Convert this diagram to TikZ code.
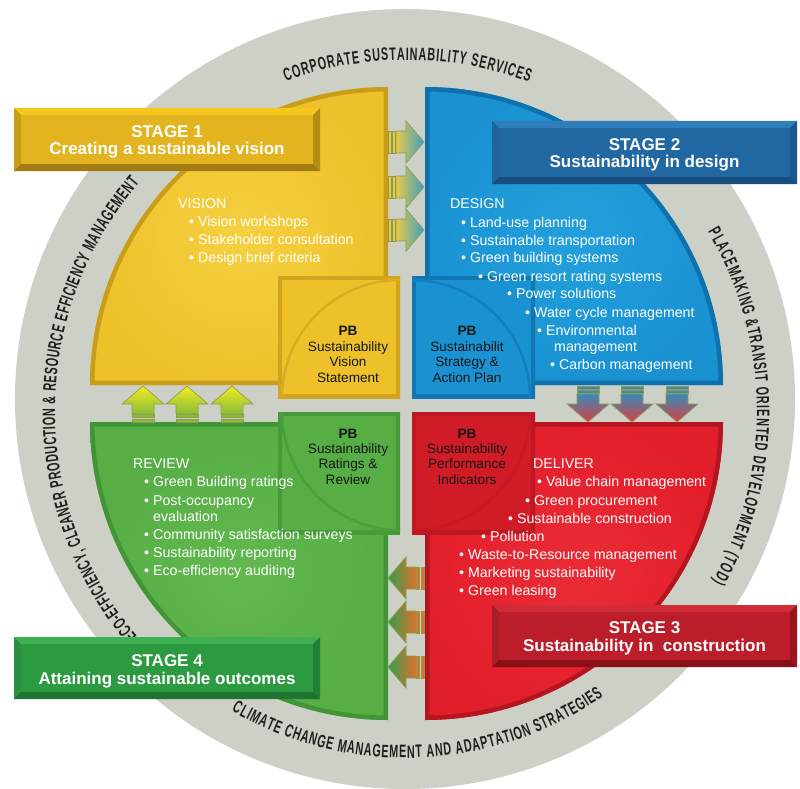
\documentclass[tikz,border=0pt]{standalone}
\usepackage{fontspec}
\setmainfont{Liberation Sans}
\newfontfamily\ringfont[FakeStretch=0.6]{Liberation Sans}
\usetikzlibrary{decorations.text}

\definecolor{ringlight}{HTML}{D6D9D0}
\definecolor{ringmid}{HTML}{CDD0C7}
\definecolor{ringdark}{HTML}{A7ABA2}
\definecolor{ymain}{HTML}{EEC12B}
\definecolor{ylight}{HTML}{F6D040}
\definecolor{ydark}{HTML}{B88E12}
\definecolor{bmain}{HTML}{1A92D2}
\definecolor{blight}{HTML}{22A0DC}
\definecolor{bdark}{HTML}{0B68A2}
\definecolor{gmain}{HTML}{56AE45}
\definecolor{glight}{HTML}{62B84F}
\definecolor{gdark}{HTML}{3A8A30}
\definecolor{rmain}{HTML}{E31E2B}
\definecolor{rlight}{HTML}{EA2C36}
\definecolor{rdark}{HTML}{A8141C}
\definecolor{sAm}{HTML}{E3B41F}\definecolor{sAl}{HTML}{F6C81E}\definecolor{sAd}{HTML}{A27C10}
\definecolor{sBm}{HTML}{2167A2}\definecolor{sBl}{HTML}{2F7DBA}\definecolor{sBd}{HTML}{174E7E}
\definecolor{sCm}{HTML}{BB1E2A}\definecolor{sCl}{HTML}{CF2C36}\definecolor{sCd}{HTML}{8A1018}
\definecolor{sDm}{HTML}{2C9A41}\definecolor{sDl}{HTML}{3DB052}\definecolor{sDd}{HTML}{1E7431}
\definecolor{arline}{HTML}{8E9C4C}
\definecolor{pbtext}{HTML}{161616}
\definecolor{aYt}{HTML}{E8C84A}\definecolor{aYh}{HTML}{3AA0C4}
\definecolor{aBt}{HTML}{3A8ABA}\definecolor{aBh}{HTML}{D84040}
\definecolor{aRt}{HTML}{E07030}\definecolor{aRh}{HTML}{2FA04C}
\definecolor{aGt}{HTML}{88BC3A}\definecolor{aGh}{HTML}{F4EC20}

\pgfdeclareradialshading{ringshade}{\pgfpoint{0bp}{0bp}}{color(0bp)=(ringmid); color(40bp)=(ringmid); color(42.5bp)=(ringlight); color(47bp)=(ringlight); color(50bp)=(ringdark)}

\newcommand\ringfmt{\ringfont\bfseries\fontsize{18}{18}\selectfont\color{black!88}}

\newcommand\bevelbox[7]{%
  \fill[#5] (#1,-#2) rectangle (#3,-#4);
  \fill[#6] (#1,-#2) -- (#3,-#2) -- (#3-7,-#2-7) -- (#1+7,-#2-7) -- cycle;
  \fill[#6!45!#7] (#1,-#2) -- (#1+7,-#2-7) -- (#1+7,-#4+7) -- (#1,-#4) -- cycle;
  \fill[#7!70!#5] (#3,-#2) -- (#3-7,-#2-7) -- (#3-7,-#4+7) -- (#3,-#4) -- cycle;
  \fill[#7] (#1,-#4) -- (#1+7,-#4+7) -- (#3-7,-#4+7) -- (#3,-#4) -- cycle;
}

% arrows: tail position given in pixels (x, y from top)
\newcommand\arrR[2]{%
  \shadedraw[left color=aYt,right color=aYh,draw=arline,line width=0.7]
    (#1+8,-#2-11) -- (#1+18,-#2-11) -- (#1+18,-#2-21) -- (#1+36,-#2) -- (#1+18,-#2+21) -- (#1+18,-#2+11) -- (#1+8,-#2+11) -- cycle;
  \filldraw[fill=aYt,draw=arline,line width=0.5] (#1,-#2-11) rectangle (#1+3,-#2+11);
  \filldraw[fill=aYt,draw=arline,line width=0.5] (#1+4.5,-#2-11) rectangle (#1+7.5,-#2+11);}
\newcommand\arrL[2]{%
  \shadedraw[right color=aRt,left color=aRh,draw=arline,line width=0.7]
    (#1-8,-#2-11) -- (#1-18,-#2-11) -- (#1-18,-#2-21) -- (#1-36,-#2) -- (#1-18,-#2+21) -- (#1-18,-#2+11) -- (#1-8,-#2+11) -- cycle;
  \filldraw[fill=aRt,draw=arline,line width=0.5] (#1,-#2-11) rectangle (#1-3,-#2+11);
  \filldraw[fill=aRt,draw=arline,line width=0.5] (#1-4.5,-#2-11) rectangle (#1-7.5,-#2+11);}
\newcommand\arrD[2]{%
  \shadedraw[top color=aBt,bottom color=aBh,draw=arline,line width=0.7]
    (#1-11,-#2-8) -- (#1-11,-#2-18) -- (#1-21,-#2-18) -- (#1,-#2-36) -- (#1+21,-#2-18) -- (#1+11,-#2-18) -- (#1+11,-#2-8) -- cycle;
  \filldraw[fill=aBt,draw=arline,line width=0.5] (#1-11,-#2) rectangle (#1+11,-#2-3);
  \filldraw[fill=aBt,draw=arline,line width=0.5] (#1-11,-#2-4.5) rectangle (#1+11,-#2-7.5);}
\newcommand\arrU[2]{%
  \shadedraw[bottom color=aGt,top color=aGh,draw=arline,line width=0.7]
    (#1-11,-#2+8) -- (#1-11,-#2+18) -- (#1-21,-#2+18) -- (#1,-#2+36) -- (#1+21,-#2+18) -- (#1+11,-#2+18) -- (#1+11,-#2+8) -- cycle;
  \filldraw[fill=aGt,draw=arline,line width=0.5] (#1-11,-#2) rectangle (#1+11,-#2+3);
  \filldraw[fill=aGt,draw=arline,line width=0.5] (#1-11,-#2+4.5) rectangle (#1+11,-#2+7.5);}

\def\quadY{(388,-385) -- (90,-385) arc[start angle=180,end angle=90,radius=298] -- cycle}
\def\quadB{(425,-385) -- (425,-87) arc[start angle=90,end angle=0,radius=298] -- cycle}
\def\quadG{(388,-422) -- (90,-422) arc[start angle=180,end angle=270,radius=298] -- cycle}
\def\quadR{(425,-422) -- (723,-422) arc[start angle=0,end angle=-90,radius=298] -- cycle}
\def\tileY{(278,-276) rectangle (400,-398)}
\def\tileB{(412,-276) rectangle (535,-398)}
\def\tileG{(278,-412) rectangle (400,-534)}
\def\tileR{(412,-412) rectangle (535,-534)}

\begin{document}
\begin{tikzpicture}[x=1pt,y=1pt,
  qt/.style={anchor=base west,text=white,font=\fontsize{14.2}{16}\selectfont,inner sep=0pt},
  pbt/.style={anchor=base,text=pbtext,font=\fontsize{13.6}{16}\selectfont,inner sep=0pt},
  pbh/.style={pbt,font=\bfseries\fontsize{13.6}{16}\selectfont},
  st/.style={anchor=base,text=white,font=\bfseries\fontsize{17}{20}\selectfont,inner sep=0pt}]
\useasboundingbox (0,0) rectangle (800,-789);
\fill[white] (0,0) rectangle (800,-789);
\coordinate (O) at (405,-399);
\coordinate (T) at (406,-411);
\shade[shading=ringshade] (O) circle[radius=390];

% quadrants
\begin{scope}\clip \quadY; \shade[inner color=ylight,outer color=ymain] \quadY; \draw[ydark!70!ymain,line width=9] \quadY; \end{scope}
\begin{scope}\clip \quadB; \shade[inner color=blight,outer color=bmain] \quadB; \draw[bdark!80!bmain,line width=9] \quadB; \end{scope}
\begin{scope}\clip \quadG; \shade[inner color=glight,outer color=gmain] \quadG; \draw[gdark!70!gmain,line width=9] \quadG; \end{scope}
\begin{scope}\clip \quadR; \shade[inner color=rlight,outer color=rmain] \quadR; \draw[rdark!80!rmain,line width=9] \quadR; \end{scope}

% PB tiles
\begin{scope}\clip \tileY; \fill[ymain] \tileY; \draw[ydark!55!ymain,line width=8] \tileY;
  \draw[ydark!40!ymain,line width=2.5] (400,-280) arc[start angle=90,end angle=180,radius=118]; \end{scope}
\begin{scope}\clip \tileB; \fill[bmain] \tileB; \draw[bdark!65!bmain,line width=8] \tileB;
  \draw[bdark!45!bmain,line width=2.5] (530,-398) arc[start angle=0,end angle=90,radius=118]; \end{scope}
\begin{scope}\clip \tileG; \fill[gmain] \tileG; \draw[gdark!55!gmain,line width=8] \tileG;
  \draw[gdark!40!gmain,line width=2.5] (282,-412) arc[start angle=180,end angle=270,radius=118]; \end{scope}
\begin{scope}\clip \tileR; \fill[rmain!92!black] \tileR; \draw[rdark!65!rmain,line width=8] \tileR;
  \draw[rdark!45!rmain,line width=2.5] (412,-530) arc[start angle=270,end angle=360,radius=118]; \end{scope}

% flow arrows
\arrR{388}{142}\arrR{388}{187}\arrR{388}{230}
\arrD{588}{386}\arrD{632}{386}\arrD{677}{386}
\arrL{424}{578}\arrL{424}{622}\arrL{424}{667}
\arrU{143}{422}\arrU{187}{422}\arrU{232}{422}

% ring texts
\path[decorate,decoration={text along path,text align={fit to path},
  text={|\ringfmt|CORPORATE SUSTAINABILITY SERVICES}}]
  ([shift={(110:351)}]T) arc[start angle=110,end angle=69.5,radius=351];
\path[decorate,decoration={text along path,text align={fit to path},
  text={|\ringfmt|ECO-EFFICIENCY, CLEANER PRODUCTION {\&} RESOURCE EFFICIENCY MANAGEMENT}}]
  ([shift={(220:351)}]T) arc[start angle=220,end angle=139.5,radius=351];
\path[decorate,decoration={text along path,text align={fit to path},
  text={|\ringfmt|PLACEMAKING {\&}TRANSIT ORIENTED DEVELOPMENT (TOD)}}]
  ([shift={(30.7:351)}]T) arc[start angle=30.7,end angle=-29,radius=351];
\path[decorate,decoration={text along path,text align={fit to path},
  text={|\ringfmt|CLIMATE CHANGE MANAGEMENT AND ADAPTATION STRATEGIES}}]
  ([shift={(239.8:347)}]T) arc[start angle=239.8,end angle=304.6,radius=347];

% stage boxes
\bevelbox{14}{108}{320}{171}{sAm}{sAl}{sAd}
\bevelbox{492}{121}{797}{184}{sBm}{sBl}{sBd}
\bevelbox{492}{605}{797}{667}{sCm}{sCl}{sCd}
\bevelbox{14}{637}{320}{699}{sDm}{sDl}{sDd}
\node[st] (s1a) at (167,-137) {STAGE 1};
\node[st] (s1b) at (167,-154.5) {Creating a sustainable vision};
\node[st] (s2a) at (644.5,-150) {STAGE 2};
\node[st] (s2b) at (644.5,-167.5) {Sustainability in design};
\node[st] (s3a) at (644.5,-633) {STAGE 3};
\node[st] (s3b) at (644.5,-651) {Sustainability in~ construction};
\node[st] (s4a) at (167,-666) {STAGE 4};
\node[st] (s4b) at (167,-684) {Attaining sustainable outcomes};

% vision
\node[qt] (v0) at (178,-208) {VISION};
\node[qt] (v1) at (189,-226) {• Vision workshops};
\node[qt] (v2) at (189,-244) {• Stakeholder consultation};
\node[qt] (v3) at (189,-262) {• Design brief criteria};
% design
\node[qt] (d0) at (450,-208) {DESIGN};
\node[qt] (d1) at (461,-227) {• Land-use planning};
\node[qt] (d2) at (461,-245) {• Sustainable transportation};
\node[qt] (d3) at (461,-262) {• Green building systems};
\node[qt] (d4) at (478,-281) {• Green resort rating systems};
\node[qt] (d5) at (507,-298) {• Power solutions};
\node[qt] (d6) at (525,-317) {• Water cycle management};
\node[qt] (d7) at (537,-335) {• Environmental};
\node[qt] (d8) at (554,-351) {management};
\node[qt] (d9) at (550,-369) {• Carbon management};
% review
\node[qt] (w0) at (133,-468) {REVIEW};
\node[qt] (w1) at (144,-486) {• Green Building ratings};
\node[qt] (w2) at (144,-505) {• Post-occupancy};
\node[qt] (w3) at (153,-521) {evaluation};
\node[qt] (w4) at (144,-539) {• Community satisfaction surveys};
\node[qt] (w5) at (144,-557) {• Sustainability reporting};
\node[qt] (w6) at (144,-575) {• Eco-efficiency auditing};
% deliver
\node[qt] (e0) at (533,-468) {DELIVER};
\node[qt] (e1) at (537,-486) {• Value chain management};
\node[qt] (e2) at (525,-505) {• Green procurement};
\node[qt] (e3) at (508,-523) {• Sustainable construction};
\node[qt] (e4) at (481,-541) {• Pollution};
\node[qt] (e5) at (459,-559) {• Waste-to-Resource management};
\node[qt] (e6) at (459,-577) {• Marketing sustainability};
\node[qt] (e7) at (459,-595) {• Green leasing};

% PB labels
\node[pbh] (p1a) at (348,-335) {PB};
\node[pbt] (p1b) at (348,-351) {Sustainability};
\node[pbt] (p1c) at (348,-366) {Vision};
\node[pbt] (p1d) at (348,-382) {Statement};
\node[pbh] (p2a) at (467,-335) {PB};
\node[pbt] (p2b) at (467,-351) {Sustainabilit};
\node[pbt] (p2c) at (467,-366) {Strategy \&};
\node[pbt] (p2d) at (467,-382) {Action Plan};
\node[pbh] (p3a) at (348,-438) {PB};
\node[pbt] (p3b) at (348,-453) {Sustainability};
\node[pbt] (p3c) at (348,-468) {Ratings \&};
\node[pbt] (p3d) at (348,-484) {Review};
\node[pbh] (p4a) at (467,-438) {PB};
\node[pbt] (p4b) at (467,-453) {Sustainability};
\node[pbt] (p4c) at (467,-468) {Performance};
\node[pbt] (p4d) at (467,-484) {Indicators};
\end{tikzpicture}
\end{document}
